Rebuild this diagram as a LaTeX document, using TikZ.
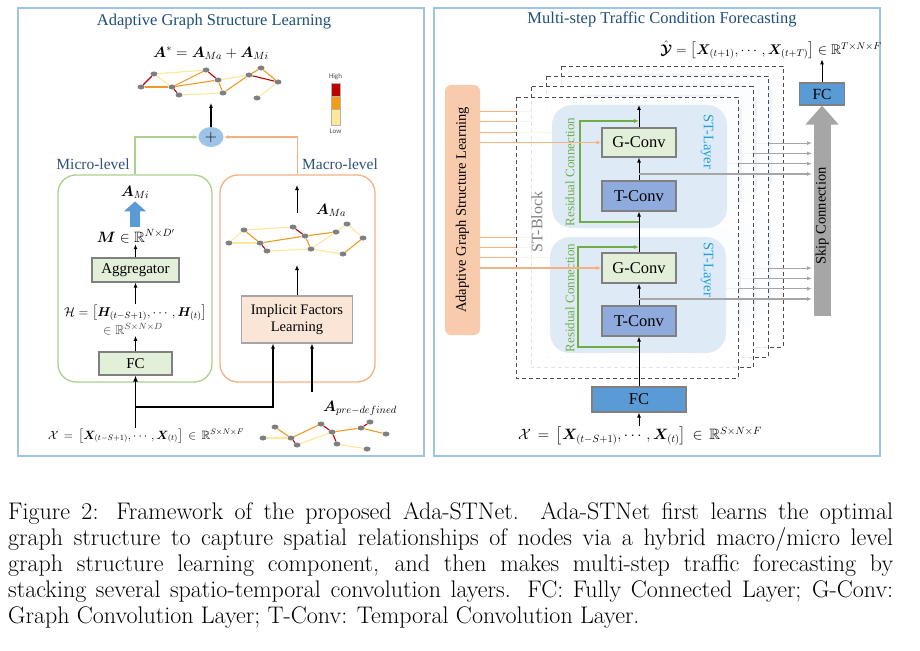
\RequirePackage{fix-cm}
\documentclass[tikz,border=0pt]{standalone}
\usepackage{amsmath,amssymb,bm}
\usepackage{fontspec}
\newfontfamily\tnr{Liberation Serif}
\newfontfamily\carl{Carlito}
\usetikzlibrary{arrows.meta,shapes.geometric}

\definecolor{panelblue}{HTML}{9DC3E6}
\definecolor{titleblue}{HTML}{1F4E79}
\definecolor{lvlblue}{HTML}{2E5078}
\definecolor{microgreen}{HTML}{A9D18E}
\definecolor{macroorange}{HTML}{F4B183}
\definecolor{boxgray}{HTML}{808080}
\definecolor{lightgreen}{HTML}{E2F0D9}
\definecolor{lightpeach}{HTML}{FBE5D6}
\definecolor{peach}{HTML}{F8CBAD}
\definecolor{plusblue}{HTML}{9DC3E6}
\definecolor{fcblue}{HTML}{5B9BD5}
\definecolor{tblue}{HTML}{8FAADC}
\definecolor{stfill}{HTML}{DEEBF7}
\definecolor{resgreen}{HTML}{70AD47}
\definecolor{stlabel}{HTML}{1FA0DC}
\definecolor{skipgray}{HTML}{A6A6A6}
\definecolor{nodegray}{HTML}{7F7F7F}
\definecolor{edgered}{HTML}{C00000}
\definecolor{edgeorange}{HTML}{EE9A22}
\definecolor{edgelight}{HTML}{FFE699}
\definecolor{legorange}{HTML}{F39C12}

\tikzset{
  panel/.style={draw=panelblue, line width=1.2pt},
  ptitle/.style={text=titleblue, inner sep=1pt, font=\tnr\fontsize{16.5}{19}\selectfont},
  lvl/.style={text=lvlblue, font=\tnr\fontsize{15.5}{18}\selectfont},
  gnode/.style={ellipse, fill=nodegray, inner sep=0pt, minimum width=7pt, minimum height=5pt},
  hiE/.style={edgered, line width=1.1pt},
  midE/.style={edgeorange, line width=1.1pt},
  loE/.style={edgelight, line width=1.1pt},
  lvlbox/.style={rounded corners=18pt, line width=1.3pt, minimum width=154pt, minimum height=207pt},
  blk/.style={draw=boxgray, line width=1.1pt, inner sep=0pt, font=\tnr\fontsize{15}{17}\selectfont},
  arr/.style={-{Latex[length=5pt,width=4pt]}, line width=1pt},
  thickarr/.style={-{Latex[length=6pt,width=5pt]}, line width=1.8pt},
  mathlbl/.style={inner sep=1pt, font=\fontsize{15}{17}\selectfont},
  stk/.style={draw=black!70, line width=0.9pt, dash pattern=on 4pt off 3pt},
  stlayer/.style={fill=stfill, rounded corners=20pt, inner sep=0pt},
  inarr/.style={macroorange, line width=1.1pt, -{Latex[length=5pt,width=4pt]}},
  skiparr/.style={skipgray, line width=1.1pt, -{Latex[length=5pt,width=4pt]}},
  resarr/.style={resgreen, line width=1.1pt, -{Latex[length=5pt,width=4pt]}},
  vlbl/.style={inner sep=0pt, font=\tnr\fontsize{14.5}{17}\selectfont}
}

\begin{document}
\begin{tikzpicture}[x=1pt,y=-1pt]
\useasboundingbox (0,0) rectangle (920,650);

\draw[panel] (18,8) rectangle (424,456);
\draw[panel] (434,8) rectangle (880,456);
\node[ptitle] (ltitle) at (214,22) {Adaptive Graph Structure Learning};
\node[ptitle] (rtitle) at (662,19) {Multi-step Traffic Condition Forecasting};

% left panel
\node[mathlbl, font=\fontsize{15}{18}\selectfont] (astar) at (211,53) {$\bm{A}^{*}=\bm{A}_{Ma}+\bm{A}_{Mi}$};
\path
  (154,74) node[gnode] (t1){}
  (206,70) node[gnode] (t2){}
  (141,87) node[gnode] (t3){}
  (172,87) node[gnode] (t4){}
  (218,80) node[gnode] (t5){}
  (249,75) node[gnode] (t6){}
  (261,68) node[gnode] (t7){}
  (278,82) node[gnode] (t8){}
  (179,95) node[gnode] (t9){}
  (223,93) node[gnode] (t10){}
  (257,98) node[gnode] (t11){};
\foreach \u/\v in {1/2,1/4,9/10,5/6,8/11} \draw[loE] (t\u) -- (t\v);
\foreach \u/\v in {3/4,4/2,4/5,5/10,10/6,6/7,7/8} \draw[midE] (t\u) -- (t\v);
\foreach \u/\v in {3/1,2/5,4/9,6/8} \draw[hiE] (t\u) -- (t\v);

\node[font=\carl\fontsize{7}{8}\selectfont, text=black!70, inner sep=0pt] (lghigh) at (335.5,77) {High};
\filldraw[draw=gray!60, fill=edgered] (331,83) rectangle (340,96);
\filldraw[draw=gray!60, fill=legorange] (331,96) rectangle (340,109);
\filldraw[draw=gray!60, fill=edgelight] (331,109) rectangle (340,125);
\node[font=\carl\fontsize{7}{8}\selectfont, text=black!70, inner sep=0pt] (lglow) at (335.5,131) {Low};

\node[ellipse, fill=plusblue, minimum width=25pt, minimum height=20pt, inner sep=0pt, font=\fontsize{16}{16}\selectfont] (plus) at (211,137) {$+$};
\coordinate (atop) at (211,103);
\draw[arr, line width=1.4pt] (plus) -- (atop);

\node[lvlbox, draw=microgreen] (micro) at (135,278.5) {};
\node[lvlbox, draw=macroorange, minimum width=155pt] (macro) at (297.5,278.5) {};
\draw[microgreen, line width=1.3pt, -{Latex[length=5pt,width=4pt]}] (micro.north) |- (plus.west);
\draw[macroorange, line width=1.3pt, -{Latex[length=5pt,width=4pt]}] (macro.north) |- (plus.east);
\node[lvl] (microlbl) at (93,164) {Micro-level};
\node[lvl] (macrolbl) at (340,164) {Macro-level};

\node[mathlbl] (ami) at (135,192) {$\bm{A}_{Mi}$};
\node[mathlbl] (mlab) at (136,236) {$\bm{M}\in\mathbb{R}^{N\times D'}$};
\draw[fcblue, line width=10pt, -{Triangle[length=10pt,width=22pt]}, shorten <=1pt, shorten >=2pt] (mlab.north -| ami.south) -- (ami.south);
\node[blk, fill=lightgreen, minimum width=87pt, minimum height=24pt] (agg) at (135.5,270) {Aggregator};
\draw[arr] (agg.north) -- (agg.north |- mlab.south);
\node[mathlbl, font=\fontsize{12.8}{15}\selectfont] (hseq) at (135.5,313) {$\mathcal{H}=\left[\bm{H}_{(t-S+1)},\cdots,\bm{H}_{(t)}\right]$};
\node[mathlbl, font=\fontsize{12.8}{15}\selectfont, text=black!75] (hdim) at (133,329) {$\in\mathbb{R}^{S\times N\times D}$};
\draw[arr] (hseq.north -| agg.south) -- (agg.south);
\node[blk, fill=lightgreen, minimum width=73pt, minimum height=23pt] (fcl) at (135.5,363.5) {FC};
\draw[arr] (fcl.north) -- (fcl.north |- hdim.south);

\coordinate (mgbot) at (297,213);
\coordinate (mgtop) at (297,185);
\draw[arr] (mgbot) -- (mgtop);
\node[mathlbl] (ama) at (331,210) {$\bm{A}_{Ma}$};
\path
  (244,230) node[gnode] (m1){}
  (229,243) node[gnode] (m2){}
  (260,243) node[gnode] (m3){}
  (267,251) node[gnode] (m4){}
  (293,227) node[gnode] (m5){}
  (305,236) node[gnode] (m6){}
  (311,249) node[gnode] (m7){}
  (336,232) node[gnode] (m8){}
  (347,224) node[gnode] (m9){}
  (363,238) node[gnode] (m10){}
  (343,254) node[gnode] (m11){};
\foreach \u/\v in {1/2,1/5,2/3,8/9,9/10,8/7,7/11,4/7} \draw[loE] (m\u) -- (m\v);
\foreach \u/\v in {1/3,3/6,6/8,6/7,11/10} \draw[midE] (m\u) -- (m\v);
\foreach \u/\v in {3/4,5/6} \draw[hiE] (m\u) -- (m\v);

\node[blk, fill=lightpeach, draw=gray!70, minimum width=111pt, minimum height=47pt, align=center, font=\tnr\fontsize{14.5}{17}\selectfont] (impl) at (297,319.5) {Implicit Factors\\Learning};
\coordinate (mgin) at (297,265);
\draw[arr] (impl.north) -- (mgin);

\node[mathlbl, font=\fontsize{12}{14}\selectfont] (inl) at (146,436) {$\mathcal{X}\,=\,\left[\bm{X}_{(t-S+1)},\cdots,\bm{X}_{(t)}\right]\,\in\,\mathbb{R}^{S\times N\times F}$};
\draw[thickarr] (fcl.south |- inl.north) -- (fcl.south);
\coordinate (br) at (135.5,407);
\draw[-{Latex[length=5pt,width=4pt]}, line width=1.5pt] (br) -| ([xshift=-24pt]impl.south);
\node[mathlbl] (apre) at (360,408) {$\bm{A}_{pre-defined}$};
\coordinate (ain) at (312,392);
\draw[arr, line width=1.4pt] (ain) -- (ain |- impl.south);
\path
  (275,427) node[gnode] (b1){}
  (263,438) node[gnode] (b2){}
  (291,438) node[gnode] (b3){}
  (297,445) node[gnode] (b4){}
  (321,424) node[gnode] (b5){}
  (332,432) node[gnode] (b6){}
  (337,444) node[gnode] (b7){}
  (361,428) node[gnode] (b8){}
  (370,422) node[gnode] (b9){}
  (386,434) node[gnode] (b10){}
  (367,449) node[gnode] (b11){};
\foreach \u/\v in {2/3,7/11,4/6} \draw[loE] (b\u) -- (b\v);
\foreach \u/\v in {1/3,3/5,6/8,8/10} \draw[midE] (b\u) -- (b\v);
\foreach \u/\v in {3/4,5/6,8/9,6/7} \draw[hiE] (b\u) -- (b\v);

% right panel
\node[fill=peach, rounded corners=6pt, minimum width=35pt, minimum height=250pt, inner sep=0pt] (agsl) at (462.5,210) {};
\node[vlbl, rotate=90] (agsltxt) at (agsl) {Adaptive Graph Structure Learning};
\coordinate (skiptip) at (812,0);

\foreach \k in {3,2,1} {
  \begin{scope}[shift={(15*\k,-10.3*\k)}]
    \fill[white, opacity=.85] (516,97) rectangle (738,378);
    \draw[stk] (516,97) rectangle (738,378);
    \fill[stfill, opacity=.45, rounded corners=20pt] (552,105) rectangle (727,228);
    \fill[stfill, opacity=.45, rounded corners=20pt] (550,237) rectangle (726,353);
    \coordinate (gu\k) at (602,142.5);
    \coordinate (gl\k) at (602,268);
    \coordinate (su\k) at (639,174);
    \coordinate (sl\k) at (639,299);
  \end{scope}
  \draw[inarr] (gu\k -| agsl.east) -- (gu\k);
  \draw[inarr] (gl\k -| agsl.east) -- (gl\k);
  \draw[skiparr] (su\k) -- (su\k -| skiptip);
  \draw[skiparr] (sl\k) -- (sl\k -| skiptip);
}

\fill[white, opacity=.85] (516,97) rectangle (738,378);
\draw[stk] (516,97) rectangle (738,378);
\node[stlayer, minimum width=175pt, minimum height=123pt] (stu) at (639.5,166.5) {};
\node[stlayer, minimum width=176pt, minimum height=116pt] (stl) at (638,295) {};
\node[vlbl, rotate=-90, text=stlabel] (stutxt) at (707,142) {ST-Layer};
\node[vlbl, rotate=-90, text=stlabel] (stltxt) at (707,270) {ST-Layer};
\node[vlbl, rotate=90, text=black!50, font=\tnr\fontsize{16}{18}\selectfont] (stblk) at (537,222) {ST-Block};
\node[vlbl, rotate=90, text=resgreen, font=\tnr\fontsize{13}{15}\selectfont] (resu) at (570,172) {Residual Connection};
\node[vlbl, rotate=90, text=resgreen, font=\tnr\fontsize{13}{15}\selectfont] (resl) at (570,298) {Residual Connection};

\node[blk, fill=lightgreen, minimum width=74pt, minimum height=29pt, font=\tnr\fontsize{16.5}{19}\selectfont] (gcu) at (639,142.5) {G-Conv};
\node[blk, fill=tblue, minimum width=74pt, minimum height=30pt, font=\tnr\fontsize{16.5}{19}\selectfont] (tcu) at (639,196) {T-Conv};
\node[blk, fill=lightgreen, minimum width=74pt, minimum height=30pt, font=\tnr\fontsize{16.5}{19}\selectfont] (gcl) at (639,268) {G-Conv};
\node[blk, fill=tblue, minimum width=74pt, minimum height=30pt, font=\tnr\fontsize{16.5}{19}\selectfont] (tcl) at (639,321) {T-Conv};
\node[blk, fill=fcblue, minimum width=94pt, minimum height=25pt, font=\tnr\fontsize{16.5}{19}\selectfont] (fcb) at (639,399.5) {FC};
\coordinate (gout) at (639,105);

\draw[arr] (fcb) -- (tcl);
\draw[arr] (tcl) -- (gcl);
\draw[arr] (gcl) -- (tcu);
\draw[arr] (tcu) -- (gcu);
\draw[arr] (gcu) -- (gout);

\coordinate (rsu) at (639,222);
\coordinate (reu) at (639,121);
\coordinate (rsl) at (639,347);
\coordinate (rel) at (639,247);
\draw[resarr] (rsu) -- ++(-59,0) |- (reu);
\draw[resarr] (rsl) -- ++(-61,0) |- (rel);

\draw[inarr] (gcu.west -| agsl.east) -- (gcu.west);
\draw[inarr] (gcl.west -| agsl.east) -- (gcl.west);
\coordinate (su0) at (639,174);
\coordinate (sl0) at (639,299);
\draw[skiparr] (su0) -- (su0 -| skiptip);
\draw[skiparr] (sl0) -- (sl0 -| skiptip);

\node[blk, fill=fcblue, minimum width=45pt, minimum height=22pt, font=\tnr\fontsize{15.5}{18}\selectfont] (fct) at (822,94) {FC};
\coordinate (skipbase) at (822,316);
\draw[skipgray, line width=17pt, -{Triangle[length=19pt,width=32pt]}] (skipbase) -- (fct.south);
\node[vlbl, rotate=90] (skiptxt) at (822,216) {Skip Connection};

\node[inner sep=0pt, font=\fontsize{14}{16}\selectfont] (outy) at (771,50) {$\hat{\bm{\mathcal{Y}}}=\left[\bm{X}_{(t+1)},\cdots,\bm{X}_{(t+T)}\right]\in\mathbb{R}^{T\times N\times F}$};
\draw[arr] (fct.north) -- (fct.north |- outy.south);

\node[mathlbl, font=\fontsize{15}{17}\selectfont] (inr) at (640,436) {$\mathcal{X}\,=\,\left[\bm{X}_{(t-S+1)},\cdots,\bm{X}_{(t)}\right]\,\in\,\mathbb{R}^{S\times N\times F}$};
\draw[arr] (fcb.south |- inr.north) -- (fcb.south);

% caption
\node[anchor=base west, inner sep=0pt, text width=885pt, align=justify, font=\fontsize{24}{26}\selectfont] (cap) at (8,519) {Figure 2: Framework of the proposed Ada-STNet.  Ada-STNet first learns the optimal\linebreak graph structure to capture spatial relationships of nodes via a hybrid macro/micro level\linebreak graph structure learning component, and then makes multi-step traffic forecasting by\linebreak stacking several spatio-temporal convolution layers. FC: Fully Connected Layer; G-Conv:\linebreak Graph Convolution Layer; T-Conv: Temporal Convolution Layer.};
\end{tikzpicture}
\end{document}
